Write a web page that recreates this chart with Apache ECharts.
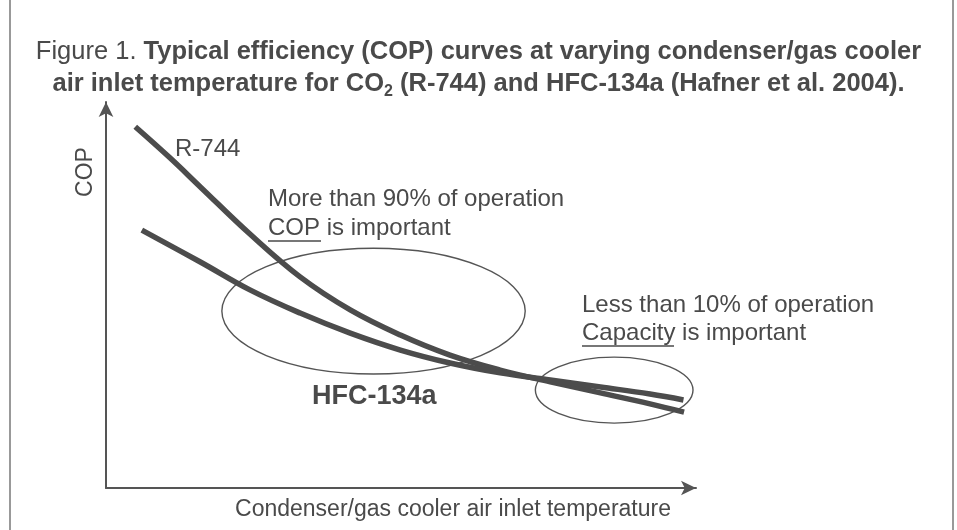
<!DOCTYPE html>
<html>
<head>
<meta charset="utf-8">
<title>COP curves</title>
<script src="https://cdn.jsdelivr.net/npm/echarts@6/dist/echarts.min.js"></script>
<style>
  html, body { margin: 0; padding: 0; background: #fff; }
  #chart { width: 957px; height: 530px; }
</style>
</head>
<body>
<div id="chart"></div>
<script>
var r744X = [4.9, 10.7, 15.8, 24.1, 32.5, 40.9, 49.3, 57.6, 66.0, 74.4, 82.8, 91.1, 96.8];
var r744Y = [91.9, 84.0, 76.6, 64.6, 53.7, 45.3, 38.9, 33.8, 30.0, 27.0, 24.2, 21.4, 19.3];
var hfcX = [6.0, 15.8, 24.1, 32.5, 40.9, 49.3, 57.6, 66.0, 74.4, 82.8, 91.1, 96.7];
var hfcY = [65.6, 57.5, 50.4, 44.5, 39.4, 35.1, 31.8, 29.3, 27.5, 25.7, 23.9, 22.4];
// operating regions (centre x, centre y, radius x, radius y)
var regionCx = [44.8, 85.1];
var regionCy = [45.0, 24.9];
var regionRx = [25.4, 13.2];
var regionRy = [16.0, 8.4];

var textColor = '#4a4a4a';
var lineColor = '#555';
var font = "'Liberation Sans', Arial, sans-serif";

function pairs(xs, ys) {
  return xs.map(function (x, i) { return [x, ys[i]]; });
}

var chart = echarts.init(document.getElementById('chart'));

var option = {
  backgroundColor: '#fff',
  animation: false,
  title: {
    left: 'center',
    top: 31,
    text: '{n|Figure 1. }{b|Typical efficiency (COP) curves at varying condenser/gas cooler}\n' +
          '{b|air inlet temperature for CO}{s|2}{b| (R-744) and HFC-134a (Hafner et al. 2004).}',
    textStyle: {
      color: textColor,
      fontFamily: font,
      rich: {
        n: { fontSize: 25.5, fontWeight: 'normal', lineHeight: 32, color: textColor, fontFamily: font },
        b: { fontSize: 25.5, fontWeight: 'bold', lineHeight: 32, color: textColor, fontFamily: font },
        s: { fontSize: 16, fontWeight: 'bold', lineHeight: 13, verticalAlign: 'bottom', color: textColor,
             fontFamily: font }
      }
    }
  },
  grid: { left: 106, right: 261, top: 102, bottom: 42 },
  xAxis: {
    type: 'value', min: 0, max: 98.8,
    axisLine: { show: true, symbol: ['none', 'arrow'], symbolSize: [11, 15],
                lineStyle: { color: lineColor, width: 2 } },
    axisTick: { show: false }, axisLabel: { show: false }, splitLine: { show: false }
  },
  yAxis: {
    type: 'value', min: 0, max: 98.2,
    axisLine: { show: true, symbol: ['none', 'arrow'], symbolSize: [11, 15],
                lineStyle: { color: lineColor, width: 2 } },
    axisTick: { show: false }, axisLabel: { show: false }, splitLine: { show: false }
  },
  series: [
    {
      name: 'R-744', type: 'line', smooth: 0.4, showSymbol: false,
      lineStyle: { color: '#4c4c4c', width: 5.5, cap: 'butt' },
      data: pairs(r744X, r744Y), z: 3
    },
    {
      name: 'HFC-134a', type: 'line', smooth: 0.4, showSymbol: false,
      lineStyle: { color: '#4c4c4c', width: 5.5, cap: 'butt' },
      data: pairs(hfcX, hfcY), z: 3
    },
    {
      name: 'regions', type: 'custom', coordinateSystem: 'cartesian2d',
      data: regionCx.map(function (cx, i) { return [cx, regionCy[i], regionRx[i], regionRy[i]]; }),
      encode: { x: 0, y: 1 },
      renderItem: function (params, api) {
        var c = api.coord([api.value(0), api.value(1)]);
        var s = api.size([api.value(2), api.value(3)]);
        return {
          type: 'ellipse',
          shape: { cx: c[0], cy: c[1], rx: s[0], ry: s[1] },
          style: { fill: 'none', stroke: lineColor, lineWidth: 1.4 }
        };
      },
      z: 2
    }
  ],
  graphic: [
    { type: 'line', shape: { x1: 10, y1: 0, x2: 10, y2: 530 }, style: { stroke: '#999', lineWidth: 2 } },
    { type: 'line', shape: { x1: 953, y1: 0, x2: 953, y2: 530 }, style: { stroke: '#999', lineWidth: 2 } },
    { type: 'text', x: 175, y: 149,
      style: { text: 'R-744', font: '24px ' + font, fill: textColor, verticalAlign: 'middle' } },
    { type: 'text', x: 268, y: 199,
      style: { text: 'More than 90% of operation', font: '24px ' + font, fill: textColor, verticalAlign: 'middle' } },
    { type: 'text', x: 268, y: 228,
      style: { text: 'COP is important', font: '24px ' + font, fill: textColor, verticalAlign: 'middle' } },
    { type: 'line', shape: { x1: 268, y1: 241, x2: 321, y2: 241 }, style: { stroke: textColor, lineWidth: 1.5 } },
    { type: 'text', x: 582, y: 305,
      style: { text: 'Less than 10% of operation', font: '24px ' + font, fill: textColor, verticalAlign: 'middle' } },
    { type: 'text', x: 582, y: 333,
      style: { text: 'Capacity is important', font: '24px ' + font, fill: textColor, verticalAlign: 'middle' } },
    { type: 'line', shape: { x1: 582, y1: 346, x2: 674, y2: 346 }, style: { stroke: textColor, lineWidth: 1.5 } },
    { type: 'text', x: 312, y: 397,
      style: { text: 'HFC-134a', font: 'bold 27px ' + font, fill: textColor, verticalAlign: 'middle' } },
    { type: 'text', x: 453, y: 510,
      style: { text: 'Condenser/gas cooler air inlet temperature', font: '23px ' + font, fill: textColor,
               align: 'center', verticalAlign: 'middle' } },
    { type: 'text', x: 86, y: 172, rotation: Math.PI / 2,
      style: { text: 'COP', font: '23px ' + font, fill: textColor, align: 'center', verticalAlign: 'middle' } }
  ]
};

chart.setOption(option);
</script>
</body>
</html>
